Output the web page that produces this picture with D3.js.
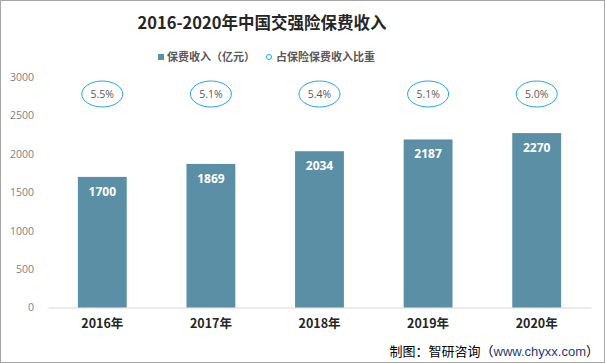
<!DOCTYPE html>
<head>
	<meta charset="utf-8">
	<title>2016-2020年中国交强险保费收入</title>
	<script src="https://cdn.jsdelivr.net/npm/d3@7"></script>
	<style>
		body { margin: 0; background: white; }
		svg text { font-family: 'Microsoft YaHei', 'Noto Sans CJK SC', sans-serif; }
		.tick text { font-family: 'Open Sans', 'Noto Sans', sans-serif; }
	</style>
</head>
<body>
	<script>
		var years = ["2016年", "2017年", "2018年", "2019年", "2020年"];
		var premium = [1700, 1869, 2034, 2187, 2270];
		var share = ["5.5%", "5.1%", "5.4%", "5.1%", "5.0%"];
		var yTicks = [0, 500, 1000, 1500, 2000, 2500, 3000];

		var width = 605, height = 363;
		var svg = d3.select("body").append("svg")
			.attr("width", width)
			.attr("height", height);

		// frame
		svg.append("rect")
			.attr("x", 0.5).attr("y", 0.5)
			.attr("width", width - 1).attr("height", height - 1)
			.attr("fill", "white").attr("stroke", "#a6a6a6");

		var x = d3.scaleBand().domain(years).range([48, 591]).paddingInner(0.55).paddingOuter(0.275);
		var y = d3.scaleLinear().domain([0, 3000]).range([307.5, 77]);

		// title
		svg.append("text")
			.attr("x", 262).attr("y", 29)
			.attr("text-anchor", "middle")
			.attr("font-size", 16.5).attr("font-weight", "bold")
			.attr("fill", "#262626")
			.text("2016-2020年中国交强险保费收入");

		// legend
		var lg = svg.append("g").attr("font-size", 11).attr("font-weight", "bold").attr("fill", "#595959");
		lg.append("rect").attr("x", 158).attr("y", 54).attr("width", 6).attr("height", 6).attr("fill", "#5b8fa6");
		lg.append("text").attr("x", 167).attr("y", 61).text("保费收入（亿元）");
		lg.append("circle").attr("cx", 269).attr("cy", 57).attr("r", 2.5).attr("fill", "none").attr("stroke", "#00b0f0").attr("stroke-width", 1);
		lg.append("text").attr("x", 276).attr("y", 61).text("占保险保费收入比重");

		// y axis
		var yAxis = d3.axisLeft(y).tickValues(yTicks).tickFormat(d3.format("d")).tickSize(0).tickPadding(0);
		var ya = svg.append("g").attr("transform", "translate(34,0)").call(yAxis);
		ya.select(".domain").remove();
		ya.selectAll("text").attr("font-size", 10.5).attr("fill", "#7f7f7f");

		// x axis
		var xAxis = d3.axisBottom(x).tickSize(0).tickPadding(12);
		var xa = svg.append("g").attr("transform", "translate(0," + y(0) + ")").call(xAxis);
		xa.select(".domain").attr("stroke", "#d9d9d9").attr("stroke-width", 1);
		xa.selectAll("text").attr("font-size", 12.5).attr("font-weight", "bold").attr("fill", "#262626")
			.style("font-family", "'Microsoft YaHei', 'Noto Sans CJK SC', sans-serif");

		// bars
		svg.selectAll(".bar")
			.data(premium)
			.enter().append("rect")
				.attr("class", "bar")
				.attr("x", function(d, i) { return x(years[i]); })
				.attr("y", function(d) { return y(d); })
				.attr("width", x.bandwidth())
				.attr("height", function(d) { return y(0) - y(d); })
				.attr("fill", "#5b8fa6");

		svg.selectAll(".val")
			.data(premium)
			.enter().append("text")
				.attr("class", "val")
				.attr("x", function(d, i) { return x(years[i]) + x.bandwidth() / 2; })
				.attr("y", function(d) { return y(d) + 19; })
				.attr("text-anchor", "middle")
				.attr("font-size", 12).attr("font-weight", "bold")
				.attr("fill", "white")
				.style("font-family", "'Open Sans', sans-serif")
				.text(function(d) { return d; });

		// share ellipses
		var eg = svg.selectAll(".share")
			.data(share)
			.enter().append("g")
				.attr("class", "share")
				.attr("transform", function(d, i) { return "translate(" + (x(years[i]) + x.bandwidth() / 2) + ",94)"; });
		eg.append("ellipse").attr("rx", 20.5).attr("ry", 13).attr("fill", "white").attr("stroke", "#1fa8e0").attr("stroke-width", 1);
		eg.append("text").attr("y", 4).attr("text-anchor", "middle")
			.attr("font-size", 10.5).attr("fill", "#595959")
			.style("font-family", "'Open Sans', sans-serif")
			.text(function(d) { return d; });

		// source
		var src = svg.append("text").attr("x", 599).attr("y", 356).attr("text-anchor", "end").attr("font-size", 13).attr("fill", "#000");
		src.append("tspan").text("制图：智研咨询（");
		src.append("tspan").attr("fill", "#1f3b7a").style("font-family", "'Liberation Sans', Arial, sans-serif").text("www.chyxx.com");
		src.append("tspan").text("）");
	</script>
</body>
